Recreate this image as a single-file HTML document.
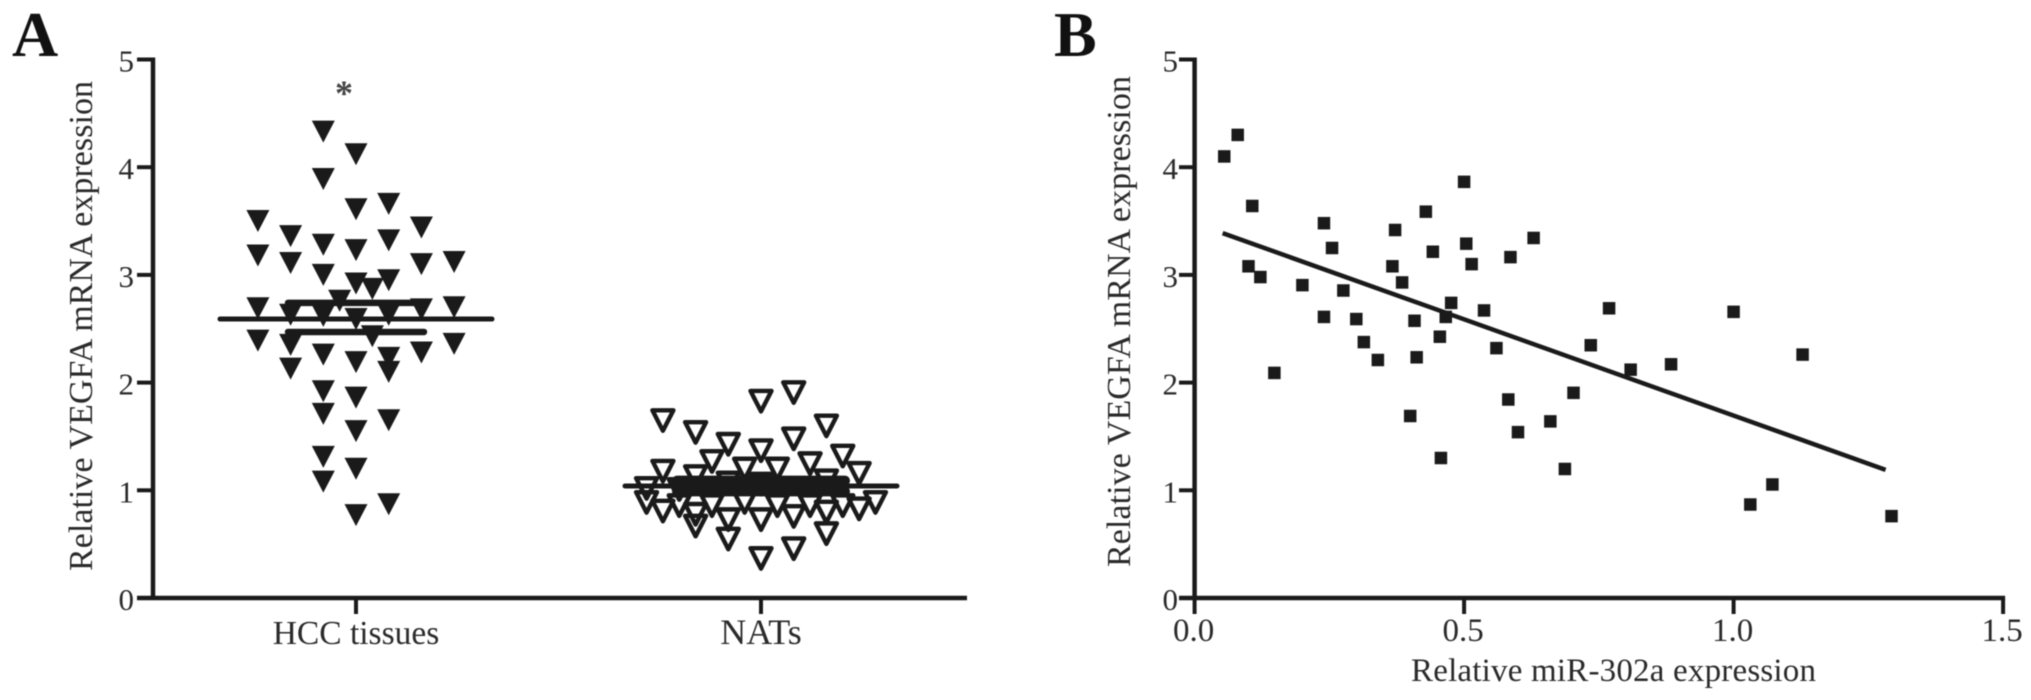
<!DOCTYPE html>
<html lang="en">
<head>
<meta charset="utf-8">
<title>VEGFA and miR-302a expression</title>
<style>
html,body{margin:0;padding:0;background:#fff;}
svg{display:block;font-family:"Liberation Serif",serif;fill:#222;}
</style>
</head>
<body>
<svg id="figure" xmlns="http://www.w3.org/2000/svg" width="2031" height="700" viewBox="0 0 2031 700">
  <rect width="2031" height="700" fill="#fff"/>
  <g id="panel-a" style="filter:blur(0.6px)">
    <text x="12" y="56" font-size="64" font-weight="bold" fill="#111">A</text>
    <text transform="translate(92,571) rotate(-90)" font-size="34" textLength="490" lengthAdjust="spacing" fill="#2a2a2a">Relative VEGFA mRNA expression</text>
    <text x="344" y="105" font-size="36" font-weight="bold" text-anchor="middle" fill="#444">*</text>
  </g>
  <g id="panel-b" style="filter:blur(0.6px)">
    <text x="1054" y="56" font-size="64" font-weight="bold" fill="#111">B</text>
    <text transform="translate(1130,567) rotate(-90)" font-size="34" textLength="491" lengthAdjust="spacing" fill="#2a2a2a">Relative VEGFA mRNA expression</text>
    <text x="1411" y="681" font-size="33" textLength="405" lengthAdjust="spacing" fill="#2a2a2a">Relative miR-302a expression</text>
  </g>
</svg>
<script>
const yTickLabels = [0, 1, 2, 3, 4, 5];
const categories = ['HCC tissues', 'NATs'];
const xTickLabelsB = ['0.0', '0.5', '1.0', '1.5'];
const hccSlots = [-3,-3,-3,-3, -2,-2,-2,-2,-2, -1,-1,-1,-1,-1,-1,-1,-1,-1,-1, 0,0,0,0,0,0,0,0,0,0, 0.5,0.5,-0.5, 1,1,1,1,1,1,1,1, 2,2,2,2, 3,3,3];
const hccValues = [3.5,3.18,2.69,2.39, 3.36,3.11,2.63,2.35,2.13, 4.33,3.89,3.28,3,2.62,2.26,1.92,1.71,1.31,1.08, 4.12,3.61,3.23,2.92,2.59,2.19,1.86,1.55,1.2,0.77, 2.87,2.43,2.76, 3.66,3.32,2.95,2.63,2.23,2.1,1.65,0.87, 3.44,3.1,2.68,2.28, 3.12,2.7,2.36];
const natSlots = [1,1,1,1, 0,0,0,0,0, -3,-3,-3, -2,-2,-2,-2, 2,2,2,2, -1,-1,-1,-1, 2.5,2.5, -1.5,-1.5, 1.5,1.5, -0.5,-0.5, 0.5,0.5, 3,3, -3.5,-3.5, 3.5, -2.5,-2.5];
const natValues = [1.91,1.48,0.76,0.46, 1.83,1.37,1.06,0.73,0.37, 1.65,1.18,0.81, 1.54,1.13,0.78,0.67, 1.6,1.09,0.8,0.6, 1.43,1.07,0.73,0.55, 1.32,0.86, 1.27,0.86, 1.25,0.86, 1.2,0.89, 1.2,0.86, 1.16,0.83, 1.02,0.89, 0.89, 1.01,0.86];
const hccSummary = [2.47, 2.59, 2.74];
const natSummary = [0.99, 1.04, 1.09];
const mirValues = [0.055,0.08,0.107,0.1,0.122,0.148,0.2,0.24,0.255,0.24,0.276,0.3,0.314,0.34,0.372,0.367,0.385,0.408,0.412,0.4,0.429,0.442,0.455,0.457,0.466,0.476,0.5,0.504,0.514,0.537,0.56,0.582,0.586,0.6,0.629,0.66,0.687,0.703,0.735,0.769,0.809,0.884,1,1.031,1.072,1.128,1.293];
const vegfaValues = [4.1,4.3,3.64,3.08,2.98,2.09,2.905,3.48,3.25,2.61,2.855,2.59,2.376,2.21,3.417,3.08,2.93,2.574,2.235,1.69,3.587,3.215,2.426,1.3,2.61,2.74,3.864,3.29,3.1,2.67,2.32,1.843,3.165,1.54,3.343,1.64,1.198,1.905,2.347,2.69,2.12,2.17,2.657,0.868,1.054,2.26,0.76];
const fitX = [0.052, 1.282];
const fitY = [3.388, 1.19];

const NS = 'http://www.w3.org/2000/svg';
const INK = '#1a1a1a';
const panelA = document.getElementById('panel-a');
const panelB = document.getElementById('panel-b');
const yScale = v => 598 - v * 107.7;
const catScale = i => 356 + i * 405;
const slotScale = s => s * 32.7;
const xScaleB = v => 1194.6 + v * 539;

function make(tag, parent, attrs, text) {
  const el = document.createElementNS(NS, tag);
  for (const k in attrs) el.setAttribute(k, attrs[k]);
  if (text !== undefined) el.textContent = text;
  parent.appendChild(el);
  return el;
}
function line(parent, x1, y1, x2, y2, w, cap) {
  return make('line', parent, {x1, y1, x2, y2, stroke: INK, 'stroke-width': w, 'stroke-linecap': cap || 'butt'});
}

function drawAxesA() {
  const yAxis = line(panelA, 153, yScale(5) - 2, 153, yScale(0) + 2, 4.5);
  
  
  const xAxis = line(panelA, 137, yScale(0), 967, yScale(0), 4.5);
  
  
  yTickLabels.forEach(v => {
    const tick = line(panelA, 137, yScale(v), 153, yScale(v), 4);
    
    
    const label = make('text', panelA, {x: 134, y: yScale(v) + 12, 'font-size': 31, 'text-anchor': 'end', fill: '#2a2a2a'}, v);
    
    
  });
  categories.forEach((c, i) => {
    const tick = line(panelA, catScale(i), yScale(0), catScale(i), yScale(0) + 16, 4);
    
    
    const label = make('text', panelA, {x: catScale(i), y: 644, 'font-size': i === 0 ? 33.5 : 36, 'text-anchor': 'middle', fill: '#2a2a2a'}, c);
    
    
  });
}

function drawSwarmA() {
  hccValues.forEach((v, i) => {
    const cx = catScale(0) + slotScale(hccSlots[i]);
    const cy = yScale(v);
    const tri = make('path', panelA, {d: `M${cx - 11.5} ${cy - 11}H${cx + 11.5}L${cx} ${cy + 11}Z`, fill: INK});
    
    
  });
  natValues.forEach((v, i) => {
    const cx = catScale(1) + slotScale(natSlots[i]);
    const cy = yScale(v);
    const tri = make('path', panelA, {d: `M${cx - 10.5} ${cy - 10}H${cx + 10.5}L${cx} ${cy + 10.5}Z`, fill: 'none', stroke: INK, 'stroke-width': 4.4, 'stroke-linejoin': 'round'});
    
    
  });
}

function drawSummary(summary, i, errWidth, errHalf, prefix) {
  const cx = catScale(i);
  const mean = line(panelA, cx - 136, yScale(summary[1]), cx + 136, yScale(summary[1]), 5, 'round');
  
  
  const low = line(panelA, cx - errHalf, yScale(summary[0]), cx + errHalf, yScale(summary[0]), errWidth, 'round');
  
  
  const high = line(panelA, cx - errHalf, yScale(summary[2]), cx + errHalf, yScale(summary[2]), errWidth, 'round');
  
  
}

function drawAxesB() {
  const yAxis = line(panelB, xScaleB(0), yScale(5) - 2, xScaleB(0), yScale(0) + 2, 4.5);
  
  
  const xAxis = line(panelB, 1179, yScale(0), xScaleB(1.5) + 2, yScale(0), 4.5);
  
  
  yTickLabels.forEach(v => {
    const tick = line(panelB, 1179, yScale(v), xScaleB(0), yScale(v), 4);
    
    
    const label = make('text', panelB, {x: 1178, y: yScale(v) + 12, 'font-size': 31, 'text-anchor': 'end', fill: '#2a2a2a'}, v);
    
    
  });
  xTickLabelsB.forEach(t => {
    const x = xScaleB(parseFloat(t));
    const tick = line(panelB, x, yScale(0), x, yScale(0) + 16, 4);
    
    
    const label = make('text', panelB, {x: x - 1, y: 641, 'font-size': 33, 'text-anchor': 'middle', fill: '#2a2a2a'}, t);
    
    
  });
}

function drawScatterB() {
  mirValues.forEach((x, i) => {
    const s = 12.5;
    const sq = make('rect', panelB, {x: xScaleB(x) - s / 2, y: yScale(vegfaValues[i]) - s / 2, width: s, height: s, fill: INK});
    
    
  });
  const fit = line(panelB, xScaleB(fitX[0]), yScale(fitY[0]), xScaleB(fitX[1]), yScale(fitY[1]), 4.5);
  
  
}

drawAxesA();
drawSwarmA();
drawSummary(hccSummary, 0, 6.5, 68, 'hcc');
drawSummary(natSummary, 1, 10, 84, 'nat');
drawAxesB();
drawScatterB();
</script>
</body>
</html>
